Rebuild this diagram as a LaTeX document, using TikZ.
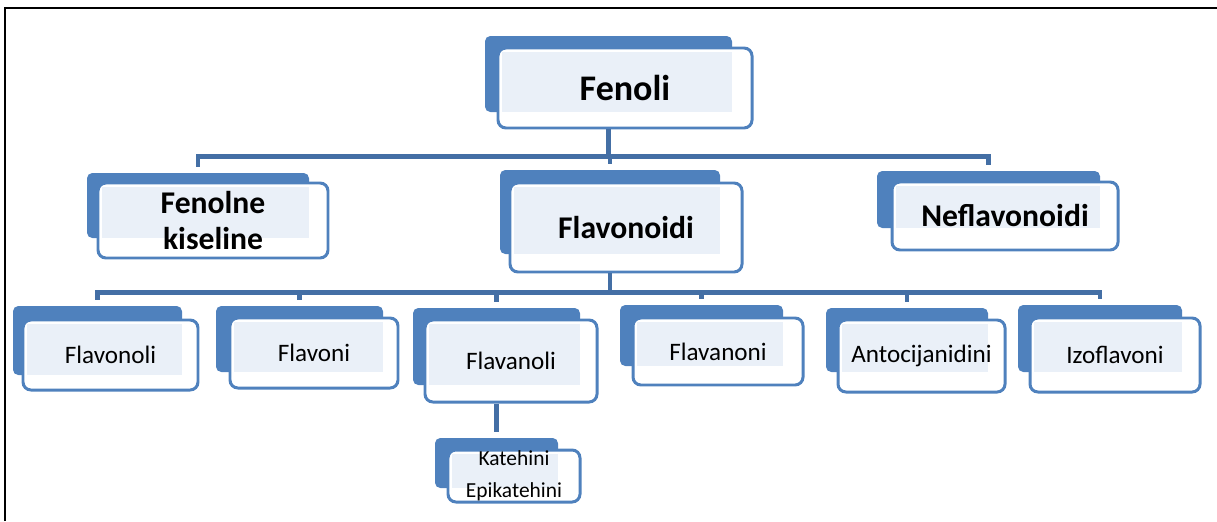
\documentclass[tikz,border=0pt]{standalone}
\usepackage{fontspec}
\setmainfont{Carlito}
\usetikzlibrary{calc}

\definecolor{smblue}{RGB}{79,129,189}
\definecolor{smline}{RGB}{68,111,165}
\definecolor{smlight}{RGB}{234,240,248}

\tikzset{
  wh/.style 2 args={minimum width=#1*0.02cm, minimum height=#2*0.02cm},
  backbox/.style={fill=smblue, rounded corners=3pt, inner sep=0pt},
  frontbox/.style={draw=smblue, line width=1.7pt, fill=white, rounded corners=4.5pt,
    inner sep=0pt, align=center,
    path picture={\fill[smlight, sharp corners] ([shift={(2pt,-2pt)}]path picture bounding box.north west) rectangle (#1.south east);}},
  link/.style={draw=smline, line width=2.3pt, shorten >=3pt},
  lvlone/.style={font=\bfseries\fontsize{20.5}{24}\selectfont},
  lvltwo/.style={font=\bfseries\fontsize{18}{20.5}\selectfont},
  lvlthree/.style={font=\fontsize{14.3}{17}\selectfont},
  lvlfour/.style={font=\fontsize{12.2}{18}\selectfont},
}

\begin{document}
\begin{tikzpicture}[x=0.02cm, y=-0.02cm]
\useasboundingbox (0,0) rectangle (1217,521);
% frame
\draw[line width=1.5pt] (5,521) -- (5,8) -- (1217,8);

% top
\node[backbox, wh={247}{76}] (fenoli-b) at (608.5,74) {};
\node[frontbox=fenoli-b, wh={254}{80}, lvlone] (fenoli) at (625,88) {Fenoli};

% second row
\node[backbox, wh={222}{65}] (kiseline-b) at (198,205.5) {};
\node[frontbox=kiseline-b, wh={230}{75}, lvltwo] (kiseline) at (213,220.5) {Fenolne\\kiseline};
\node[backbox, wh={220}{84}] (flavonoidi-b) at (610,212) {};
\node[frontbox=flavonoidi-b, wh={232}{89}, lvltwo] (flavonoidi) at (626,227.5) {Flavonoidi};
\node[backbox, wh={223}{57}] (neflavonoidi-b) at (988.5,199.5) {};
\node[frontbox=neflavonoidi-b, wh={226}{68}, lvltwo] (neflavonoidi) at (1005,216) {Neflavonoidi};

% third row
\node[backbox, wh={169}{69}] (flavonoli-b) at (97.5,340.5) {};
\node[frontbox=flavonoli-b, wh={175}{70}, lvlthree] (flavonoli) at (110.5,355) {Flavonoli};
\node[backbox, wh={167}{66}] (flavoni-b) at (299.5,339) {};
\node[frontbox=flavoni-b, wh={168}{70}, lvlthree] (flavoni) at (314,353) {Flavoni};
\node[backbox, wh={167}{77}] (flavanoli-b) at (496.5,346.5) {};
\node[frontbox=flavanoli-b, wh={172}{82}, lvlthree] (flavanoli) at (511,361) {Flavanoli};
\node[backbox, wh={163}{61}] (flavanoni-b) at (701.5,335.5) {};
\node[frontbox=flavanoni-b, wh={170}{67}, lvlthree] (flavanoni) at (718,351.5) {Flavanoni};
\node[backbox, wh={162}{64}] (antocijanidini-b) at (907,340) {};
\node[frontbox=antocijanidini-b, wh={167}{72}, lvlthree] (antocijanidini) at (921.5,356) {Antocijanidini};
\node[backbox, wh={164}{67}] (izoflavoni-b) at (1100,338.5) {};
\node[frontbox=izoflavoni-b, wh={170}{74}, lvlthree] (izoflavoni) at (1115,355) {Izoflavoni};

% under Flavanoli
\node[backbox, wh={123}{50}] (katehini-b) at (496.5,463) {};
\node[frontbox=katehini-b, wh={132}{52}, lvlfour] (katehini) at (514,476) {Katehini\\Epikatehini};

% connectors
\foreach \child in {kiseline,flavonoidi,neflavonoidi}
  \draw[link] (fenoli-b.south |- fenoli.south) -- ++(0,27) -| (\child-b.north);
\foreach \child in {flavonoli,flavoni,flavanoli,flavanoni,antocijanidini,izoflavoni}
  \draw[link] (flavonoidi-b.south |- flavonoidi.south) -- ++(0,19) -| (\child-b.north);
\draw[link] (flavanoli-b.south |- flavanoli.south) -- (katehini-b.north);
\end{tikzpicture}
\end{document}
